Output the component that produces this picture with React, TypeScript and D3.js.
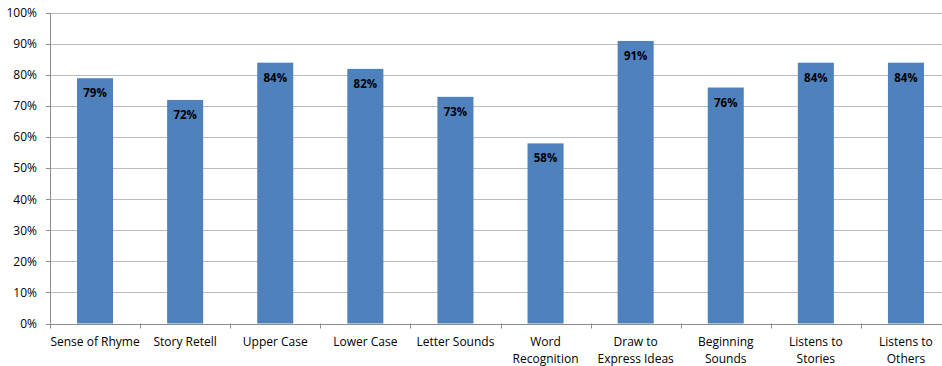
import React from "react";
import * as d3 from "d3";

const categories: string[][] = [
  ["Sense of Rhyme"],
  ["Story Retell"],
  ["Upper Case"],
  ["Lower Case"],
  ["Letter Sounds"],
  ["Word", "Recognition"],
  ["Draw to", "Express Ideas"],
  ["Beginning", "Sounds"],
  ["Listens to", "Stories"],
  ["Listens to", "Others"],
];
const values: number[] = [79, 72, 84, 82, 73, 58, 91, 76, 84, 84];
const yTicks: number[] = [0, 10, 20, 30, 40, 50, 60, 70, 80, 90, 100];

const W = 942;
const H = 366;
const left = 50;
const right = 951;
const top = 13;
const bottom = 323.5;
const font = "'Open Sans', 'Noto Sans', sans-serif";

export default function App() {
  const keys = categories.map((_, i) => String(i));
  const x = d3.scaleBand<string>().domain(keys).range([left, right]).paddingInner(0.6).paddingOuter(0.3);
  const y = d3.scaleLinear().domain([0, 100]).range([bottom, top]);
  const bounds = d3.range(categories.length + 1).map((i) => left + i * ((right - left) / categories.length));

  return (
    <svg width={W} height={H} style={{ position: "absolute", left: 0, top: 0, background: "#fff" }}>
      {yTicks.map((t) => (
        <g key={t}>
          {t > 0 && (
            <line x1={left} x2={W} y1={Math.round(y(t)) + 0.5} y2={Math.round(y(t)) + 0.5} stroke="#bcbcbc" strokeWidth={1} />
          )}
          <line x1={left - 4} x2={left} y1={Math.round(y(t)) + 0.5} y2={Math.round(y(t)) + 0.5} stroke="#8c8c8c" />
          <text x={37} y={y(t)} dy="0.35em" textAnchor="end" fontFamily={font} fontSize={12} fill="#000">
            {t}%
          </text>
        </g>
      ))}
      {values.map((v, i) => {
        const bx = x(String(i))!;
        return (
          <g key={i}>
            <rect x={bx} y={y(v)} width={x.bandwidth()} height={bottom - y(v)} fill="#4f81bd" />
            <text
              x={bx + x.bandwidth() / 2}
              y={y(v) + 19}
              textAnchor="middle"
              fontFamily={font}
              fontSize={11.5}
              fontWeight="bold"
              fill="#000"
            >
              {v}%
            </text>
          </g>
        );
      })}
      <line x1={left + 0.5} x2={left + 0.5} y1={top} y2={bottom} stroke="#8c8c8c" />
      <line x1={left} x2={W} y1={Math.round(bottom) + 0.5} y2={Math.round(bottom) + 0.5} stroke="#8c8c8c" />
      {bounds.map((b, i) => (
        <line key={i} x1={Math.round(b) + 0.5} x2={Math.round(b) + 0.5} y1={bottom} y2={bottom + 5} stroke="#8c8c8c" />
      ))}
      {categories.map((lines, i) => (
        <text key={i} textAnchor="middle" fontFamily={font} fontSize={12} fill="#000">
          {lines.map((ln, j) => (
            <tspan key={j} x={x(String(i))! + x.bandwidth() / 2} y={346 + j * 16.5}>
              {ln}
            </tspan>
          ))}
        </text>
      ))}
    </svg>
  );
}
